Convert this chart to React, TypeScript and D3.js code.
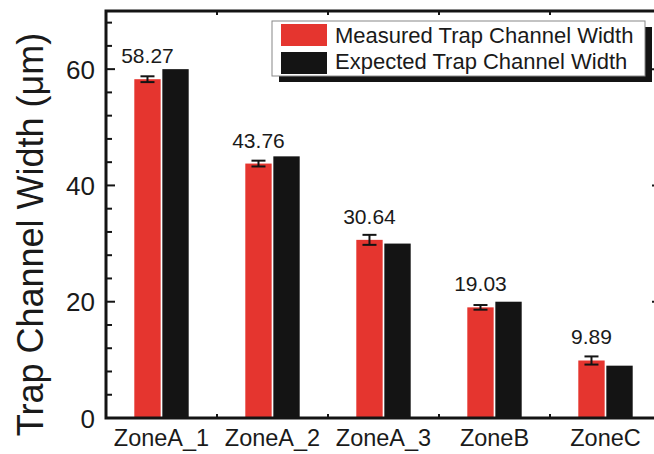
import React from "react";
import * as d3 from "d3";

const zones = ["ZoneA_1", "ZoneA_2", "ZoneA_3", "ZoneB", "ZoneC"];
const measured = [58.27, 43.76, 30.64, 19.03, 9.89];
const measuredErr = [0.5, 0.5, 0.86, 0.4, 0.7];
const expected = [60, 45, 30, 20, 9];
const yMajorTicks = [0, 20, 40, 60];
const seriesNames = ["Measured Trap Channel Width", "Expected Trap Channel Width"];

const RED = "#e5352f";
const BLACK = "#141414";
const FONT = "'Liberation Sans', Arial, sans-serif";

export default function App() {
  const width = 654;
  const height = 454;
  const margin = { top: 11, right: -7, bottom: 36, left: 106 };
  const left = margin.left;
  const right = width - margin.right;
  const top = margin.top;
  const bottom = height - margin.bottom;

  const x = d3.scaleBand().domain(zones).range([left, right]);
  const bw = x.bandwidth();
  const inner = d3
    .scaleBand()
    .domain(["m", "e"])
    .range([bw * 0.255, bw * 0.745])
    .paddingInner(0.06);

  const y = d3.scaleLinear().domain([0, 70]).range([bottom, top]);
  const minorTicks = d3.range(0, 71, 4).filter((v) => v % 20 !== 0);
  const boundaries = zones.slice(1).map((z) => x(z) as number);

  return (
    <svg
      width={width}
      height={height}
      style={{ position: "absolute", left: 0, top: 0, background: "#fff" }}
      fontFamily={FONT}
    >
      {/* bars */}
      {zones.map((z, i) => {
        const x0 = x(z) as number;
        const xm = x0 + (inner("m") as number);
        const xe = x0 + (inner("e") as number);
        const w = inner.bandwidth();
        const cx = xm + w / 2;
        return (
          <g key={z}>
            <rect x={xm} y={y(measured[i])} width={w} height={bottom - y(measured[i])} fill={RED} />
            <rect x={xe} y={y(expected[i])} width={w} height={bottom - y(expected[i])} fill={BLACK} />
            <g stroke={BLACK} strokeWidth={2}>
              <line x1={cx} x2={cx} y1={y(measured[i] + measuredErr[i])} y2={y(measured[i] - measuredErr[i])} />
              <line x1={cx - 7} x2={cx + 7} y1={y(measured[i] + measuredErr[i])} y2={y(measured[i] + measuredErr[i])} />
              <line x1={cx - 7} x2={cx + 7} y1={y(measured[i] - measuredErr[i])} y2={y(measured[i] - measuredErr[i])} />
            </g>
            <text x={cx} y={y(measured[i]) - 16} textAnchor="middle" fontSize={21} fill="#1a1a1a">
              {measured[i].toFixed(2)}
            </text>
            <text x={x0 + bw / 2} y={446} textAnchor="middle" fontSize={23.5} fill="#1a1a1a">
              {z}
            </text>
          </g>
        );
      })}

      {/* y axis ticks */}
      <g stroke={BLACK} strokeWidth={2}>
        {yMajorTicks.map((t) => (
          <g key={t}>
            <line x1={left} x2={left + 9} y1={y(t)} y2={y(t)} />
            <line x1={right} x2={right - 9} y1={y(t)} y2={y(t)} />
          </g>
        ))}
        {minorTicks.map((t) => (
          <g key={t}>
            <line x1={left} x2={left + 6} y1={y(t)} y2={y(t)} />
            <line x1={right} x2={right - 6} y1={y(t)} y2={y(t)} />
          </g>
        ))}
        {boundaries.map((b) => (
          <g key={b}>
            <line x1={b} x2={b} y1={bottom} y2={bottom - 4} />
            <line x1={b} x2={b} y1={top} y2={top + 4} />
          </g>
        ))}
      </g>
      {yMajorTicks.map((t) => (
        <text key={t} x={left - 11} y={y(t) + 9.5} textAnchor="end" fontSize={26} fill="#1a1a1a">
          {t}
        </text>
      ))}

      {/* frame */}
      <rect x={left} y={top} width={right - left} height={bottom - top} fill="none" stroke={BLACK} strokeWidth={3} />

      {/* y title */}
      <text
        transform={`translate(43,${(top + bottom) / 2 + 20}) rotate(-90)`}
        textAnchor="middle"
        fontSize={36}
        fill="#1a1a1a"
      >
        Trap Channel Width (μm)
      </text>

      {/* legend */}
      <g>
        <rect x={279} y={27} width={373} height={55} fill={BLACK} />
        <rect x={272} y={21} width={373} height={55} fill="#fff" stroke="#888" strokeWidth={1} />
        {seriesNames.map((s, i) => (
          <g key={s}>
            <rect x={281} y={24 + i * 28} width={46} height={22} fill={i === 0 ? RED : BLACK} />
            <text x={335} y={43 + i * 26} fontSize={22} fill="#1a1a1a">
              {s}
            </text>
          </g>
        ))}
      </g>
    </svg>
  );
}
